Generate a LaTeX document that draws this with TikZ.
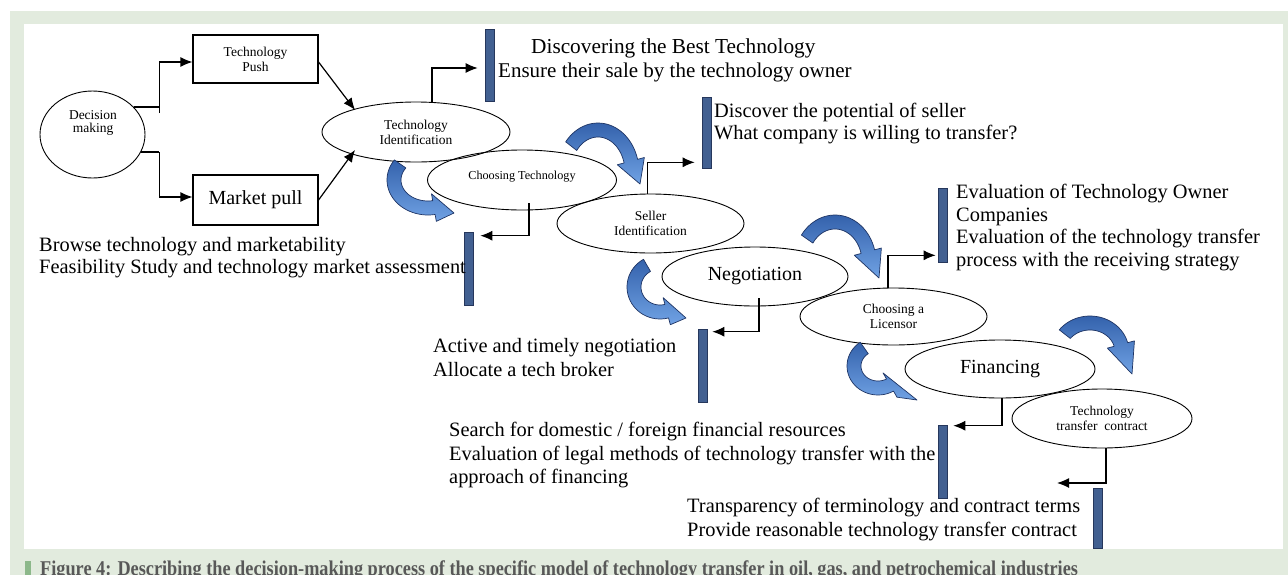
\documentclass[tikz,border=0pt]{standalone}
\usepackage{fontspec}
\setmainfont{Liberation Serif}
\newfontfamily\capfont[FakeStretch=0.87]{Liberation Serif}
\usetikzlibrary{shapes.geometric,arrows.meta,calc}

\definecolor{framegreen}{RGB}{226,235,222}
\definecolor{capbar}{RGB}{140,184,138}
\definecolor{captext}{RGB}{88,88,88}
\definecolor{barfill}{RGB}{66,96,145}
\definecolor{barline}{RGB}{38,55,92}
\definecolor{arrlight}{RGB}{112,162,228}
\definecolor{arrdark}{RGB}{52,98,172}
\definecolor{arrline}{RGB}{30,52,100}

% curved block arrow along an elliptic arc:
% centre (#1,#2), radii #3/#4, from angle #5 to #6, tip at (#7,#8)
\newcommand\bendarrow[8]{%
  \path[blockarrow]
    plot[domain=#5:#6,samples=30] ({#1+(#3+7)*cos(\x)},{#2+(#4+7)*sin(\x)})
    -- ({#1+(#3+14)*cos(#6)},{#2+(#4+14)*sin(#6)})
    -- (#7,#8)
    -- ({#1+(#3-14)*cos(#6)},{#2+(#4-14)*sin(#6)})
    -- plot[domain=#6:#5,samples=30] ({#1+(#3-7)*cos(\x)},{#2+(#4-7)*sin(\x)})
    -- cycle;}

\tikzset{
  ell/.style={ellipse, draw, line width=0.9pt, inner sep=0pt, align=center},
  boxnode/.style={rectangle, draw, line width=1.1pt, inner sep=0pt, align=center},
  barnode/.style={rectangle, draw=barline, fill=barfill, line width=0.6pt,
    minimum width=9pt, inner sep=0pt},
  conn/.style={line width=1.2pt, -{Latex[length=12pt,width=10pt]}},
  link/.style={line width=1.2pt},
  smalltxt/.style={font=\fontsize{13.5}{15}\selectfont},
  bigtxt/.style={font=\fontsize{20}{22}\selectfont},
  bodytxt/.style={anchor=base west, inner sep=0pt, font=\fontsize{20.4}{22}\selectfont},
  widetxt/.style={bodytxt, font=\fontsize{21.3}{22}\selectfont},
  blockarrow/.style={draw=arrline, line width=0.7pt, top color=arrdark,
    bottom color=arrlight, line join=round},
}

\begin{document}
\begin{tikzpicture}[x=1pt,y=-1pt]
\useasboundingbox (0,0) rectangle (1288,574);
\clip (0,0) rectangle (1288,574);

% page frame
\fill[white] (0,0) rectangle (1288,574);
\fill[framegreen] (10,11) rectangle (1290,576);
\fill[white] (24,24) rectangle (1283,549);

% decision stage
\node[ell, minimum width=105pt, minimum height=87pt] (dm) at (92.5,134.5) {};
\node[align=center, inner sep=0pt, font=\fontsize{13.5}{12.5}\selectfont] (dmt) at (93,123) {Decision\\making};
\node[boxnode, smalltxt, minimum width=125pt, minimum height=48pt] (push) at (255.5,59) {Technology\\Push};
\node[boxnode, bigtxt, minimum width=125pt, minimum height=50pt] (pull) at (255.5,200) {Market pull};

% process ellipses
\node[ell, smalltxt, minimum width=188pt, minimum height=60pt] (ti) at (416,132) {Technology\\Identification};
\node[ell, font=\fontsize{12.2}{14}\selectfont, minimum width=189pt, minimum height=60pt, text depth=10pt] (ct) at (522,180) {Choosing Technology};
\node[ell, smalltxt, minimum width=187pt, minimum height=59pt] (si) at (650.5,223.5) {Seller\\Identification};
\node[ell, bigtxt, minimum width=186pt, minimum height=59pt] (ne) at (755,276.5) {Negotiation};
\node[ell, smalltxt, minimum width=187pt, minimum height=57pt] (cl) at (893.5,316.5) {Choosing a\\Licensor};
\node[ell, bigtxt, minimum width=190pt, minimum height=58pt] (fi) at (1000,369) {Financing};
\node[ell, smalltxt, minimum width=180pt, minimum height=59pt] (tc) at (1102,418.5) {Technology\\transfer\ \ contract};

% output bars
\node[barnode, minimum height=72pt] (b1) at (489.5,65) {};
\node[barnode, minimum height=71pt] (b2) at (706.5,132.5) {};
\node[barnode, minimum height=73pt] (b3) at (468.5,268.5) {};
\node[barnode, minimum height=73pt] (b4) at (702.5,365.5) {};
\node[barnode, minimum height=74pt] (b5) at (942.5,225) {};
\node[barnode, minimum height=73pt] (b6) at (942.5,461.5) {};
\node[barnode, minimum height=60pt] (b7) at (1097.5,518) {};
\coordinate (tcend) at (1057,483);

% connectors from the decision
\draw[link] ($(dm.center)+(41,-27.5)$) -- ($(push.west)+(-33,48)$);
\draw[conn] ($(push.west)+(-33,54)$) |- ($(push.west)+(0,3)$);
\draw[link] ($(dm.center)+(48,17.5)$) -- ($(pull.west)+(-33,-48)$);
\draw[conn] ($(pull.west)+(-33,-48)$) |- ($(pull.west)+(0,-3)$);
\draw[conn] ($(push.east)+(0,3)$) -- ($(ti.center)+(-61,-22)$);
\draw[conn] (pull.east) -- ($(ti.center)+(-61,18)$);

% connectors from the stages to their outputs
\draw[conn, shorten >=7pt] ($(ti.north)+(16,0)$) |- ($(b1.west)+(0,3)$);
\draw[conn, shorten >=7pt] ($(ct.center)+(7,23)$) |- ($(b3.north east)+(0,4)$);
\draw[conn, shorten >=7pt] ($(si.north)+(-3,0)$) |- ($(b2.south west)+(0,-6)$);
\draw[conn, shorten >=5pt] ($(ne.south)+(4,-8)$) |- ($(b4.north east)+(0,3)$);
\draw[conn, shorten >=2pt] ($(cl.north)+(-5.5,0)$) |- ($(b5.south west)+(0,-7)$);
\draw[conn, shorten >=6pt] ($(fi.south)+(2,0)$) |- ($(b6.north east)+(0,1)$);
\draw[conn] ($(tc.south)+(4,0)$) |- (tcend);

% curved flow arrows between stages
\bendarrow{428}{180}{34}{28}{215}{80}{454}{213}
\bendarrow{598}{172}{34}{42}{218}{345}{640}{184}
\bendarrow{660}{287}{26}{25}{240}{75}{686}{318}
\bendarrow{835}{262}{34}{40}{215}{345}{879}{278}
\bendarrow{878}{366}{24}{22}{235}{60}{917}{400}
\bendarrow{1090}{352}{32}{29}{218}{345}{1132}{374}

% descriptions
\node[widetxt] (t1a) at (531,53) {Discovering the Best Technology};
\node[widetxt, font=\fontsize{21}{22}\selectfont] (t1b) at (498,77) {Ensure their sale by the technology owner};
\node[bodytxt] (t2a) at (714,117) {Discover the potential of seller};
\node[bodytxt] (t2b) at (714,139) {What company is willing to transfer?};
\node[bodytxt] (t3a) at (39,251) {Browse technology and marketability};
\node[bodytxt] (t3b) at (39,273) {Feasibility Study and technology market assessment};
\node[bodytxt] (t4a) at (956,198) {Evaluation of Technology Owner};
\node[bodytxt] (t4b) at (956,221) {Companies};
\node[bodytxt] (t4c) at (956,243) {Evaluation of the technology transfer};
\node[bodytxt] (t4d) at (956,266) {process with the receiving strategy};
\node[bodytxt] (t5a) at (433,352) {Active and timely negotiation};
\node[bodytxt] (t5b) at (433,376) {Allocate a tech broker};
\node[bodytxt] (t6a) at (449,436) {Search for domestic / foreign financial resources};
\node[bodytxt] (t6b) at (449,460) {Evaluation of legal methods of technology transfer with the};
\node[bodytxt] (t6c) at (449,483) {approach of financing};
\node[bodytxt] (t7a) at (687,512) {Transparency of terminology and contract terms};
\node[bodytxt] (t7b) at (687,536) {Provide reasonable technology transfer contract};

% caption
\fill[capbar] (25,561) rectangle (31,576);
\node[anchor=base west, inner sep=0pt, text=captext, font=\capfont\bfseries\fontsize{21}{24}\selectfont] (cap) at (40,575.5)
  {Figure 4: Describing the decision-making process of the specific model of technology transfer in oil, gas, and petrochemical industries};
\end{tikzpicture}
\end{document}
